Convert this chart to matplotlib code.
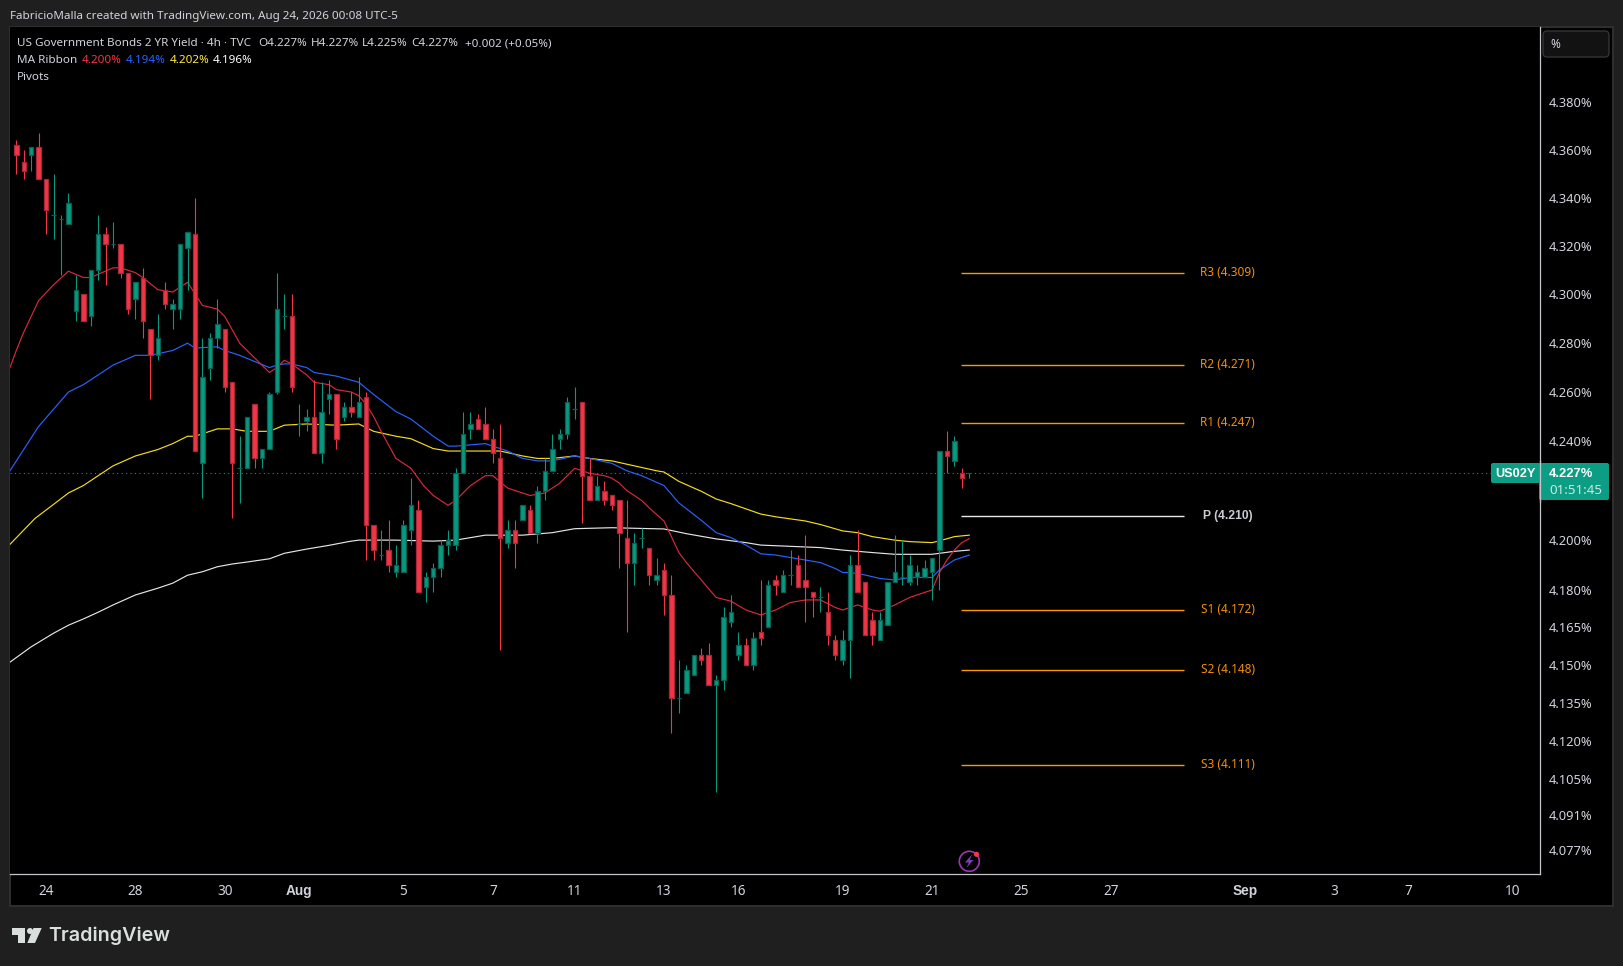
import matplotlib
matplotlib.use("Agg")
import matplotlib.pyplot as plt
from matplotlib.patches import Rectangle, FancyBboxPatch, Polygon, Circle

# bars, 4h candles
opens = [4.362, 4.355, 4.358, 4.361, 4.348, 4.333, 4.331, 4.329, 4.293, 4.300,
         4.291, 4.310, 4.325, 4.321, 4.321, 4.309, 4.298, 4.307, 4.286, 4.275,
         4.302, 4.294, 4.294, 4.319, 4.325, 4.231, 4.270, 4.282, 4.286, 4.264,
         4.229, 4.229, 4.255, 4.233, 4.237, 4.260, 4.291, 4.291, 4.247, 4.248,
         4.250, 4.235, 4.257, 4.259, 4.250, 4.254, 4.250, 4.258, 4.206, 4.194,
         4.196, 4.187, 4.187, 4.204, 4.212, 4.181, 4.185, 4.189, 4.198, 4.198,
         4.227, 4.245, 4.249, 4.247, 4.241, 4.233, 4.199, 4.204, 4.208, 4.212,
         4.203, 4.220, 4.228, 4.241, 4.243, 4.253, 4.256, 4.226, 4.216, 4.220,
         4.218, 4.216, 4.201, 4.191, 4.201, 4.197, 4.184, 4.188, 4.178, 4.137,
         4.139, 4.146, 4.154, 4.154, 4.142, 4.144, 4.167, 4.154, 4.158, 4.150,
         4.163, 4.165, 4.184, 4.179, 4.186, 4.190, 4.184, 4.179, 4.177, 4.171,
         4.160, 4.152, 4.160, 4.190, 4.183, 4.168, 4.160, 4.166, 4.183, 4.185,
         4.183, 4.185, 4.185, 4.187, 4.196, 4.236, 4.232, 4.227, 4.227]
highs = [4.364, 4.360, 4.361, 4.367, 4.348, 4.350, 4.333, 4.342, 4.308, 4.300,
         4.310, 4.333, 4.328, 4.330, 4.321, 4.309, 4.305, 4.311, 4.286, 4.292,
         4.305, 4.298, 4.321, 4.326, 4.340, 4.282, 4.284, 4.298, 4.286, 4.264,
         4.242, 4.250, 4.255, 4.237, 4.260, 4.309, 4.300, 4.300, 4.255, 4.253,
         4.265, 4.264, 4.265, 4.259, 4.256, 4.260, 4.266, 4.260, 4.206, 4.204,
         4.208, 4.198, 4.208, 4.225, 4.216, 4.187, 4.191, 4.200, 4.204, 4.229,
         4.252, 4.252, 4.251, 4.254, 4.245, 4.247, 4.208, 4.208, 4.214, 4.214,
         4.222, 4.233, 4.243, 4.245, 4.258, 4.262, 4.256, 4.233, 4.226, 4.224,
         4.218, 4.216, 4.216, 4.203, 4.205, 4.197, 4.193, 4.191, 4.186, 4.152,
         4.150, 4.154, 4.157, 4.159, 4.146, 4.173, 4.178, 4.163, 4.161, 4.163,
         4.184, 4.184, 4.186, 4.188, 4.196, 4.194, 4.202, 4.179, 4.181, 4.179,
         4.162, 4.164, 4.194, 4.204, 4.183, 4.171, 4.171, 4.183, 4.202, 4.200,
         4.194, 4.190, 4.192, 4.193, 4.236, 4.244, 4.242, 4.229, 4.227]
lows = [4.350, 4.348, 4.351, 4.348, 4.325, 4.323, 4.308, 4.329, 4.289, 4.289,
        4.287, 4.306, 4.304, 4.319, 4.307, 4.292, 4.290, 4.282, 4.257, 4.273,
        4.294, 4.286, 4.290, 4.302, 4.236, 4.217, 4.265, 4.278, 4.260, 4.209,
        4.215, 4.229, 4.229, 4.229, 4.237, 4.259, 4.286, 4.260, 4.242, 4.244,
        4.235, 4.231, 4.251, 4.237, 4.248, 4.250, 4.250, 4.192, 4.192, 4.192,
        4.187, 4.185, 4.187, 4.198, 4.179, 4.175, 4.179, 4.185, 4.194, 4.196,
        4.227, 4.241, 4.245, 4.241, 4.231, 4.156, 4.197, 4.189, 4.208, 4.203,
        4.199, 4.216, 4.228, 4.237, 4.241, 4.249, 4.207, 4.216, 4.216, 4.214,
        4.212, 4.189, 4.163, 4.182, 4.197, 4.182, 4.182, 4.170, 4.123, 4.131,
        4.139, 4.146, 4.150, 4.142, 4.100, 4.140, 4.165, 4.152, 4.150, 4.148,
        4.158, 4.165, 4.178, 4.179, 4.182, 4.181, 4.167, 4.169, 4.171, 4.158,
        4.152, 4.150, 4.145, 4.179, 4.162, 4.158, 4.160, 4.166, 4.183, 4.182,
        4.182, 4.182, 4.185, 4.176, 4.180, 4.227, 4.230, 4.221, 4.225]
closes = [4.358, 4.351, 4.361, 4.348, 4.335, 4.333, 4.331, 4.338, 4.302, 4.289,
          4.310, 4.325, 4.321, 4.321, 4.309, 4.294, 4.305, 4.289, 4.275, 4.282,
          4.296, 4.296, 4.321, 4.326, 4.236, 4.266, 4.282, 4.288, 4.262, 4.231,
          4.229, 4.250, 4.233, 4.237, 4.259, 4.294, 4.291, 4.262, 4.247, 4.250,
          4.235, 4.252, 4.259, 4.241, 4.254, 4.252, 4.256, 4.206, 4.196, 4.194,
          4.190, 4.190, 4.206, 4.214, 4.179, 4.185, 4.189, 4.198, 4.200, 4.227,
          4.243, 4.247, 4.245, 4.241, 4.235, 4.201, 4.204, 4.199, 4.214, 4.203,
          4.220, 4.228, 4.237, 4.243, 4.256, 4.253, 4.226, 4.216, 4.222, 4.216,
          4.214, 4.203, 4.191, 4.199, 4.201, 4.186, 4.186, 4.178, 4.137, 4.137,
          4.148, 4.154, 4.152, 4.142, 4.144, 4.169, 4.171, 4.158, 4.150, 4.161,
          4.161, 4.182, 4.182, 4.186, 4.186, 4.181, 4.181, 4.177, 4.177, 4.162,
          4.154, 4.160, 4.190, 4.179, 4.162, 4.162, 4.168, 4.183, 4.187, 4.185,
          4.190, 4.187, 4.189, 4.193, 4.236, 4.234, 4.240, 4.225, 4.227]

# MA ribbon, sampled at the bends of each line
ma_red_x = [-0.85, 0, 1, 2, 3, 5, 7, 9, 10, 13, 14, 16, 17, 19, 21, 23, 25, 27, 28, 30, 31,
            34, 35, 36, 37, 39, 40, 42, 43, 45, 46, 47, 48, 49, 51, 53, 54.7, 56, 58, 59,
            61, 63, 64, 66, 67, 68, 69, 71, 73, 75, 76, 77, 79, 80, 81, 82, 84, 85, 87, 89,
            90, 92, 94, 96, 98, 100, 102, 104, 106, 108, 110, 111, 112, 113, 115, 116, 118,
            120, 122, 123, 124, 125, 126, 127, 128]
ma_red = [4.270, 4.277, 4.2845, 4.291, 4.2975, 4.304, 4.3096, 4.307, 4.307, 4.311, 4.311,
          4.309, 4.307, 4.302, 4.301, 4.305, 4.2955, 4.294, 4.291, 4.280, 4.277, 4.268,
          4.270, 4.273, 4.2715, 4.267, 4.264, 4.263, 4.261, 4.260, 4.2585, 4.255, 4.250,
          4.244, 4.233, 4.229, 4.222, 4.218, 4.214, 4.216, 4.222, 4.226, 4.226, 4.221,
          4.220, 4.219, 4.218, 4.219, 4.223, 4.229, 4.228, 4.227, 4.226, 4.225, 4.223,
          4.220, 4.216, 4.213, 4.2077, 4.195, 4.191, 4.184, 4.177, 4.1755, 4.172, 4.170,
          4.172, 4.175, 4.176, 4.176, 4.173, 4.172, 4.173, 4.174, 4.172, 4.1715, 4.174,
          4.177, 4.179, 4.180, 4.187, 4.192, 4.196, 4.199, 4.2006]
ma_blue_x = [-0.85, 3, 7, 9, 13, 16, 18, 21, 23, 24, 27, 28, 30, 32, 34, 35, 36, 37, 39, 40, 42,
             43, 46, 48, 51, 53, 56, 58, 59, 61, 63, 64, 66, 68, 70, 72, 75, 77, 80, 82, 84,
             87, 89, 92, 94, 96, 98, 100, 102, 106, 108, 110, 111, 112, 114, 116, 118, 120,
             123, 124, 125, 126, 128]
ma_blue = [4.228, 4.246, 4.260, 4.263, 4.271, 4.275, 4.275, 4.277, 4.280, 4.278, 4.2785,
           4.277, 4.275, 4.2725, 4.270, 4.271, 4.2715, 4.2715, 4.270, 4.268, 4.267, 4.2665,
           4.264, 4.259, 4.252, 4.249, 4.242, 4.238, 4.238, 4.2385, 4.239, 4.238, 4.236,
           4.233, 4.232, 4.232, 4.234, 4.233, 4.231, 4.228, 4.226, 4.222, 4.215, 4.208,
           4.203, 4.201, 4.198, 4.1945, 4.194, 4.192, 4.191, 4.1886, 4.187, 4.187, 4.186,
           4.1846, 4.184, 4.185, 4.185, 4.188, 4.190, 4.192, 4.194]
ma_yellow_x = [-0.85, 2.5, 5, 7, 9, 13, 16, 19, 21, 23, 24, 27, 29, 31, 34, 36, 39, 43, 46, 48,
               51, 53, 56, 58, 60, 63, 65, 68, 70, 72, 75, 77, 80, 83, 86, 87, 89, 92, 94, 96,
               98, 100, 102, 106, 108, 111, 113, 115, 118, 120, 123, 124, 126, 128]
ma_yellow = [4.1983, 4.2087, 4.2144, 4.219, 4.222, 4.230, 4.234, 4.2366, 4.239, 4.242, 4.242,
             4.245, 4.245, 4.244, 4.244, 4.2465, 4.247, 4.2465, 4.247, 4.244, 4.242, 4.241,
             4.237, 4.236, 4.236, 4.236, 4.236, 4.234, 4.233, 4.233, 4.234, 4.233, 4.232,
             4.230, 4.228, 4.2275, 4.2237, 4.2197, 4.2166, 4.2147, 4.2126, 4.2105, 4.2094,
             4.2077, 4.2063, 4.2037, 4.203, 4.2014, 4.200, 4.1994, 4.199, 4.1997, 4.2014, 4.202]
ma_white_x = [-0.85, 2, 5, 7, 9, 11, 13, 16, 19, 21, 23, 25, 27, 29, 31, 34, 36, 39, 42, 44.8, 46,
              51, 56, 59, 63, 65, 68, 72, 75, 80, 84, 87, 90, 94, 98, 100, 104, 108, 111, 115,
              118, 123, 126, 128]
ma_white = [4.1512, 4.1573, 4.1627, 4.1659, 4.1684, 4.1711, 4.174, 4.178, 4.1807, 4.1827, 4.1859,
            4.1873, 4.1893, 4.1904, 4.1912, 4.1925, 4.1947, 4.1964, 4.1979, 4.1995, 4.200,
            4.200, 4.1996, 4.200, 4.202, 4.202, 4.202, 4.203, 4.2046, 4.205, 4.2047, 4.2045,
            4.2026, 4.2005, 4.199, 4.198, 4.1975, 4.197, 4.196, 4.195, 4.1943, 4.1943, 4.1955,
            4.196]

# pivots
pivot_names = ["R3", "R2", "R1", "P", "S1", "S2", "S3"]
pivot_values = [4.309, 4.271, 4.2474, 4.2097, 4.172, 4.1482, 4.1106]
last_price = 4.227

# axes labels
y_ticks = [4.38, 4.36, 4.34, 4.32, 4.30, 4.28, 4.26, 4.24, 4.20, 4.18, 4.165, 4.15, 4.135,
           4.12, 4.105, 4.091, 4.077]
y_tick_labels = ["4.380%", "4.360%", "4.340%", "4.320%", "4.300%", "4.280%", "4.260%", "4.240%",
                 "4.200%", "4.180%", "4.165%", "4.150%", "4.135%", "4.120%", "4.105%", "4.091%",
                 "4.077%"]
x_ticks = [4, 16, 28, 38, 52, 64, 75, 87, 97, 111, 123, 135, 147, 165, 177, 187, 201]
x_tick_labels = ["24", "28", "30", "Aug", "5", "7", "11", "13", "16", "19", "21", "25", "27",
                 "Sep", "3", "7", "10"]

plt.rcParams["font.family"] = ["Noto Sans", "DejaVu Sans"]

GREEN = "#089981"
RED = "#f23645"
TEXT = "#d1d4dc"
ORANGE = "#ff9800"
W, H = 1623, 966
SMALL = 8.4
BOLD = ["Liberation Sans", "DejaVu Sans"]

fig = plt.figure(figsize=(W / 100, H / 100), dpi=100, facecolor="#1f1f1f")

# chrome behind the chart, in pixels
back = fig.add_axes([0, 0, 1, 1], zorder=-1)
back.set_xlim(0, W)
back.set_ylim(H, 0)
back.axis("off")
back.add_patch(Rectangle((9.5, 26.5), 1603, 879, facecolor="black", edgecolor="#2e2e2e", linewidth=1.5))

# price pane
ax = fig.add_axes([10 / W, 1 - 874 / H, 1529.5 / W, 847 / H], facecolor="black", zorder=1)
ax.set_yscale("log")

ax.axhline(last_price, color=GREEN, linewidth=0.8, linestyle=(0, (1, 3)), zorder=1)

ax.plot(ma_white_x, ma_white, color="#e4e4e4", linewidth=0.85, zorder=2)
ax.plot(ma_yellow_x, ma_yellow, color="#f5dc1e", linewidth=0.85, zorder=2)
ax.plot(ma_blue_x, ma_blue, color="#2962ff", linewidth=0.85, zorder=2)
ax.plot(ma_red_x, ma_red, color="#d8293c", linewidth=0.85, zorder=2)

for i in range(len(opens)):
    up = closes[i] >= opens[i]
    color = GREEN if up else RED
    edge = "#0b5f50" if up else "#a8283a"
    ax.vlines(i, lows[i], highs[i], color=color, linewidth=0.8, zorder=3)
    bottom = min(opens[i], closes[i])
    ax.bar(i, abs(closes[i] - opens[i]), bottom=bottom, width=0.6, color=color,
           edgecolor=edge, linewidth=0.9, zorder=4)

for name, value in zip(pivot_names, pivot_values):
    if name == "P":
        ax.hlines(value, 126.9, 156.85, color="#e8e8e8", linewidth=1.0, zorder=2)
        ax.text(162.7, value + 0.0002, "%s (%.3f)" % (name, value), color="#c9cbd0", fontsize=8.7,
                fontweight="bold", family=BOLD, ha="center", va="center")
    else:
        ax.hlines(value, 126.9, 156.85, color=ORANGE, linewidth=1.0, zorder=2)
        ax.text(162.7, value + 0.0002, "%s (%.3f)" % (name, value), color="#f0900a", fontsize=8.5,
                ha="center", va="center")

ax.set_xlim(-0.846, 204.6)
ax.set_ylim(4.0678, 4.4116)
ax.set_xticks(x_ticks)
ax.set_xticklabels(x_tick_labels)
ax.yaxis.tick_right()
ax.set_yticks(y_ticks)
ax.set_yticklabels(y_tick_labels)
ax.minorticks_off()
ax.tick_params(axis="y", length=0, pad=7, labelsize=9.3, labelcolor=TEXT)
ax.tick_params(axis="x", length=0, pad=7, labelsize=9.8, labelcolor=TEXT)
for label in ax.get_xticklabels():
    if label.get_text() in ("Aug", "Sep"):
        label.set_family(BOLD)
        label.set_fontweight("bold")
for side in ("top", "left"):
    ax.spines[side].set_visible(False)
for side in ("right", "bottom"):
    ax.spines[side].set_color("#c4c6cc")
    ax.spines[side].set_linewidth(0.9)

# header, legend, badges, logo, in pixels
top = fig.add_axes([0, 0, 1, 1], zorder=5)
top.set_xlim(0, W)
top.set_ylim(H, 0)
top.axis("off")

top.text(9.5, 16, "FabricioMalla created with TradingView.com, Aug 24, 2026 00:08 UTC-5",
         color=TEXT, fontsize=SMALL, va="center")

for px, s in [(17, "US Government Bonds 2 YR Yield · 4h · TVC"), (258, "O4.227%"), (311, "H4.227%"),
              (362, "L4.225%"), (411, "C4.227%"), (465, "+0.002 (+0.05%)")]:
    top.text(px, 43.5, s, color=TEXT, fontsize=SMALL, va="center")
for px, s, c in [(17, "MA Ribbon", TEXT), (81.5, "4.200%", RED), (125.5, "4.194%", "#2962ff"),
                 (169.5, "4.202%", "#ffeb3b"), (213, "4.196%", "white")]:
    top.text(px, 60.5, s, color=c, fontsize=SMALL, va="center")
top.text(17, 77.5, "Pivots", color=TEXT, fontsize=SMALL, va="center")

# % button
top.add_patch(FancyBboxPatch((1545.5, 33.5), 61, 21, boxstyle="round,pad=2.5,rounding_size=4",
                             facecolor="#121212", edgecolor="#343434", linewidth=1))
top.text(1555, 44.5, "%", color=TEXT, fontsize=8.5, ha="center", va="center")

# last price badges
top.add_patch(FancyBboxPatch((1493, 465), 46, 16, boxstyle="round,pad=2,rounding_size=2",
                             facecolor="#0b9e84", edgecolor="none"))
top.add_patch(FancyBboxPatch((1541, 465), 66, 33, boxstyle="round,pad=2,rounding_size=2",
                             facecolor="#0b9e84", edgecolor="none"))
top.plot([1539.6, 1539.6], [461, 502], color="#c4c6cc", linewidth=0.9)
top.text(1515.5, 474, "US02Y", color="white", fontsize=9.2, fontweight="bold", family=BOLD,
         ha="center", va="center")
top.text(1549, 474, "4.227%", color="white", fontsize=9.4, fontweight="bold", family=BOLD, va="center")
top.text(1549, 491, "01:51:45", color="#cfe9e3", fontsize=9.6, va="center")

# bolt icon
top.add_patch(Circle((969.3, 861.3), 10, facecolor="none", edgecolor="#9c36b5", linewidth=1.2))
top.add_patch(Polygon([(972, 854.5), (965, 862.5), (968.8, 862.5), (966.5, 868), (973.5, 860),
                       (969.8, 860)], closed=True, facecolor="#7a3fb0", edgecolor="none"))
top.add_patch(Circle((976.5, 854.3), 2.6, facecolor=RED, edgecolor="none"))

# TradingView logo
logo = "#d9dfdd"
top.add_patch(Polygon([(12, 928), (25, 928), (25, 943), (17.5, 943), (17.5, 935), (12, 935)],
                      closed=True, facecolor=logo, edgecolor="none"))
top.add_patch(Circle((30, 931), 3, facecolor=logo, edgecolor="none"))
top.add_patch(Polygon([(33.5, 928), (41.7, 928), (35, 943), (27.3, 943)], closed=True,
                      facecolor=logo, edgecolor="none"))
top.text(48.5, 936, "TradingView", color=logo, fontsize=14.2, fontweight="semibold", va="center",
         family=["Inter", "DejaVu Sans"])

fig.savefig("out.png", dpi=100, facecolor=fig.get_facecolor())
